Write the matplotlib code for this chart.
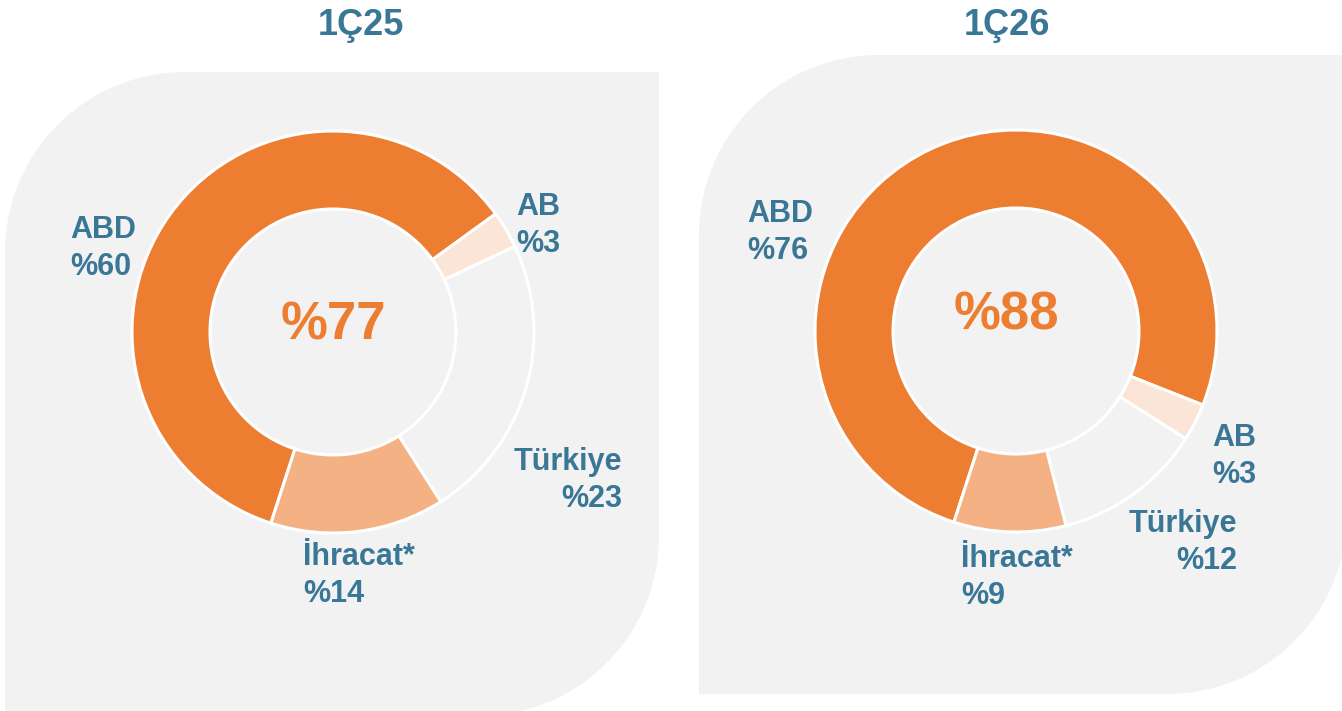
import numpy as np
import matplotlib
matplotlib.use("Agg")
from matplotlib import pyplot as plt
from matplotlib.path import Path
from matplotlib.patches import PathPatch

plt.rcParams['font.family'] = ['Liberation Sans', 'DejaVu Sans']

# data
categories = ['ABD', 'AB', 'Türkiye', 'İhracat*']
share_1q25 = [60, 3, 23, 14]
share_1q26 = [76, 3, 12, 9]
total_1q25 = 77
total_1q26 = 88
titles = ['1Ç25', '1Ç26']

W, H = 1342, 711
BLUE = '#3A7797'
ORANGE = '#ED7D31'
GREY = '#F2F2F2'
colors = [ORANGE, '#FBE5D6', GREY, '#F4B183']


def Y(y):
	# pixel row (from top) -> data y
	return H - y


def panel(ax, x0, y0, x1, y1, r=180):
	# grey box, top-left and bottom-right corners rounded
	t = np.linspace(0, np.pi / 2, 40)
	pts = []
	# top-left arc, from left side up to top side
	cx, cy = x0 + r, Y(y0) - r
	for a in t:
		pts.append((cx - r * np.cos(a), cy + r * np.sin(a)))
	pts.append((x1, Y(y0)))
	# bottom-right arc, from right side down to bottom
	cx, cy = x1 - r, Y(y1) + r
	for a in t:
		pts.append((cx + r * np.cos(a), cy - r * np.sin(a)))
	pts.append((x0, Y(y1)))
	pts.append(pts[0])
	ax.add_patch(PathPatch(Path(pts), facecolor=GREY, edgecolor='none', zorder=0))


fig = plt.figure(figsize=(W / 100, H / 100), dpi=100)
ax = fig.add_axes([0, 0, 1, 1])

panel(ax, 5, 72, 659, 716)
panel(ax, 699, 55, 1347, 694)

donuts = [
	dict(vals=share_1q25, total=total_1q25, c=(333, 332), title_x=361, tot_x=333, tot_y=340,
		 labels=[(70, 238, 'left'), (516, 215, 'left'), (622, 470, 'right'), (303, 565, 'left')]),
	dict(vals=share_1q26, total=total_1q26, c=(1016, 331), title_x=1007, tot_x=1006, tot_y=330,
		 labels=[(747, 222, 'left'), (1212, 446, 'left'), (1237, 532, 'right'), (961, 567, 'left')]),
]

for i, d in enumerate(donuts):
	ax.pie(d['vals'], colors=colors, radius=201, center=(d['c'][0], Y(d['c'][1])),
		   startangle=252, counterclock=False,
		   wedgeprops=dict(width=78, edgecolor='white', linewidth=2.2))
	ax.text(d['title_x'], Y(35), titles[i], color=BLUE, fontsize=26, fontweight='bold',
			ha='center', va='baseline')
	ax.text(d['tot_x'], Y(d['tot_y']), '%' + str(d['total']), color=ORANGE, fontsize=38,
			fontweight='bold', ha='center', va='baseline')
	for (lx, ly, ha), name, v in zip(d['labels'], categories, d['vals']):
		ax.text(lx, Y(ly), name, color=BLUE, fontsize=22, fontweight='bold', ha=ha, va='baseline')
		ax.text(lx, Y(ly + 37), '%' + str(v), color=BLUE, fontsize=22, fontweight='bold',
				ha=ha, va='baseline')

ax.set_xlim(0, W)
ax.set_ylim(0, H)
ax.set_aspect('auto')
ax.axis('off')

fig.savefig('out.png', dpi=100, facecolor='white')
